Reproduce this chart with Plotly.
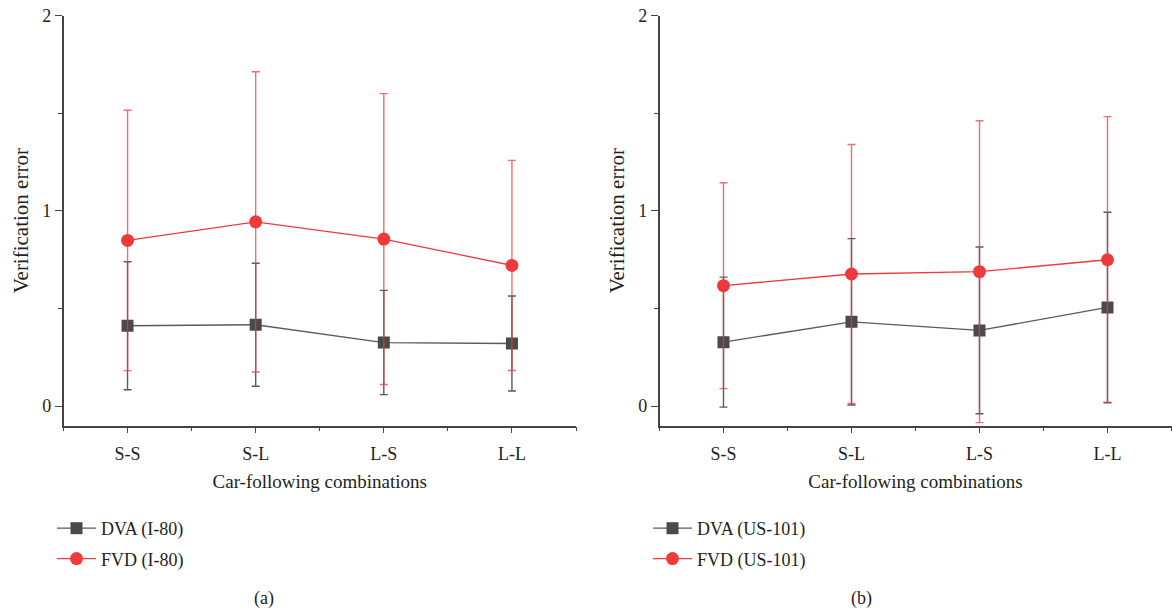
import plotly.graph_objects as go

categories = ["S-S", "S-L", "L-S", "L-L"]
xpos = [1, 2, 3, 4]

# Panel (a) I-80
dva_i80 = [0.412, 0.417, 0.326, 0.321]
dva_i80_err = [0.328, 0.315, 0.267, 0.243]
fvd_i80 = [0.849, 0.944, 0.856, 0.721]
fvd_i80_err = [0.667, 0.769, 0.745, 0.538]

# Panel (b) US-101
dva_us101 = [0.328, 0.432, 0.388, 0.506]
dva_us101_err = [0.333, 0.426, 0.427, 0.487]
fvd_us101 = [0.617, 0.677, 0.689, 0.750]
fvd_us101_err = [0.527, 0.663, 0.773, 0.733]

W, H = 1172, 614
FONT = "Liberation Serif"
TXT = "#231f20"
GREY = "#4a4a4a"
GREY_LINE = "#5a5a5a"
RED = "#ef3a3d"
RED_ERR = "rgba(238,58,62,0.75)"

fig = go.Figure()

def add_pair(xa, ya, leg, dva, dva_err, fvd, fvd_err, tag):
    fig.add_trace(go.Scatter(
        x=xpos, y=dva, mode="lines+markers", name=f"DVA ({tag})",
        xaxis=xa, yaxis=ya, legend=leg, legendgroup=f"d{tag}",
        line=dict(color=GREY_LINE, width=1.3),
        marker=dict(symbol="square", size=12, color=GREY),
        error_y=dict(type="data", array=dva_err, visible=True,
                     color=GREY_LINE, thickness=1.4, width=4),
    ))
    fig.add_trace(go.Scatter(
        x=xpos, y=fvd, mode="lines+markers", name=f"FVD ({tag})",
        xaxis=xa, yaxis=ya, legend=leg, legendgroup=f"f{tag}",
        line=dict(color=RED, width=1.3),
        marker=dict(symbol="circle", size=13, color=RED),
        error_y=dict(type="data", array=fvd_err, visible=True,
                     color=RED_ERR, thickness=1.4, width=4),
    ))

add_pair("x", "y", "legend", dva_i80, dva_i80_err, fvd_i80, fvd_i80_err, "I-80")
add_pair("x2", "y2", "legend2", dva_us101, dva_us101_err, fvd_us101, fvd_us101_err, "US-101")

ydom = [(H - 425.7) / H, (H - 15.7) / H]
xdom1 = [63.5 / W, 576 / W]
xdom2 = [659.5 / W, 1171.5 / W]

def xaxis(dom, anchor):
    return dict(
        domain=dom, anchor=anchor, range=[0.5, 4.5],
        tickvals=xpos, ticktext=categories,
        showline=True, linecolor="#444", linewidth=1.5,
        ticks="outside", ticklen=6, tickwidth=1.3, tickcolor="#444",
        minor=dict(tickvals=[0.5, 1.5, 2.5, 3.5, 4.5], ticks="outside",
                   ticklen=4, tickwidth=1.3, tickcolor="#444"),
        showgrid=False, zeroline=False,
        tickfont=dict(family=FONT, size=18, color=TXT),
        ticklabelstandoff=5,
        title=dict(text="Car-following combinations",
                   font=dict(family=FONT, size=19, color=TXT), standoff=12),
        automargin=False, fixedrange=True,
    )

def yaxis(anchor):
    return dict(
        domain=ydom, anchor=anchor, range=[-0.1, 2.0],
        tickvals=[0, 1, 2], ticktext=["0", "1", "2"],
        showline=True, linecolor="#444", linewidth=1.5,
        ticks="outside", ticklen=7, tickwidth=1.3, tickcolor="#444",
        minor=dict(tickvals=[0.5, 1.5], ticks="outside",
                   ticklen=4, tickwidth=1.3, tickcolor="#444"),
        showgrid=False, zeroline=False,
        tickfont=dict(family=FONT, size=18, color=TXT),
        title=dict(text="Verification error",
                   font=dict(family=FONT, size=21, color=TXT), standoff=8),
        automargin=False, fixedrange=True,
    )

legend_common = dict(
    xanchor="left", yanchor="top", orientation="v",
    font=dict(family=FONT, size=18, color=TXT),
    bgcolor="rgba(0,0,0,0)", tracegroupgap=4, itemwidth=39,
)

fig.update_layout(
    width=W, height=H,
    margin=dict(l=0, r=0, t=0, b=0),
    paper_bgcolor="white", plot_bgcolor="white",
    xaxis=xaxis(xdom1, "y"),
    yaxis=yaxis("x"),
    xaxis2=xaxis(xdom2, "y2"),
    yaxis2=yaxis("x2"),
    legend=dict(x=52 / W, y=(H - 510) / H, **legend_common),
    legend2=dict(x=648 / W, y=(H - 510) / H, **legend_common),
    showlegend=True,
    annotations=[
        dict(text="(a)", x=264 / W, y=(H - 598) / H, xref="paper", yref="paper",
             xanchor="center", yanchor="middle",
             showarrow=False, font=dict(family=FONT, size=18, color=TXT)),
        dict(text="(b)", x=861 / W, y=(H - 598) / H, xref="paper", yref="paper",
             xanchor="center", yanchor="middle",
             showarrow=False, font=dict(family=FONT, size=18, color=TXT)),
    ],
)

fig.write_html("out.html")
